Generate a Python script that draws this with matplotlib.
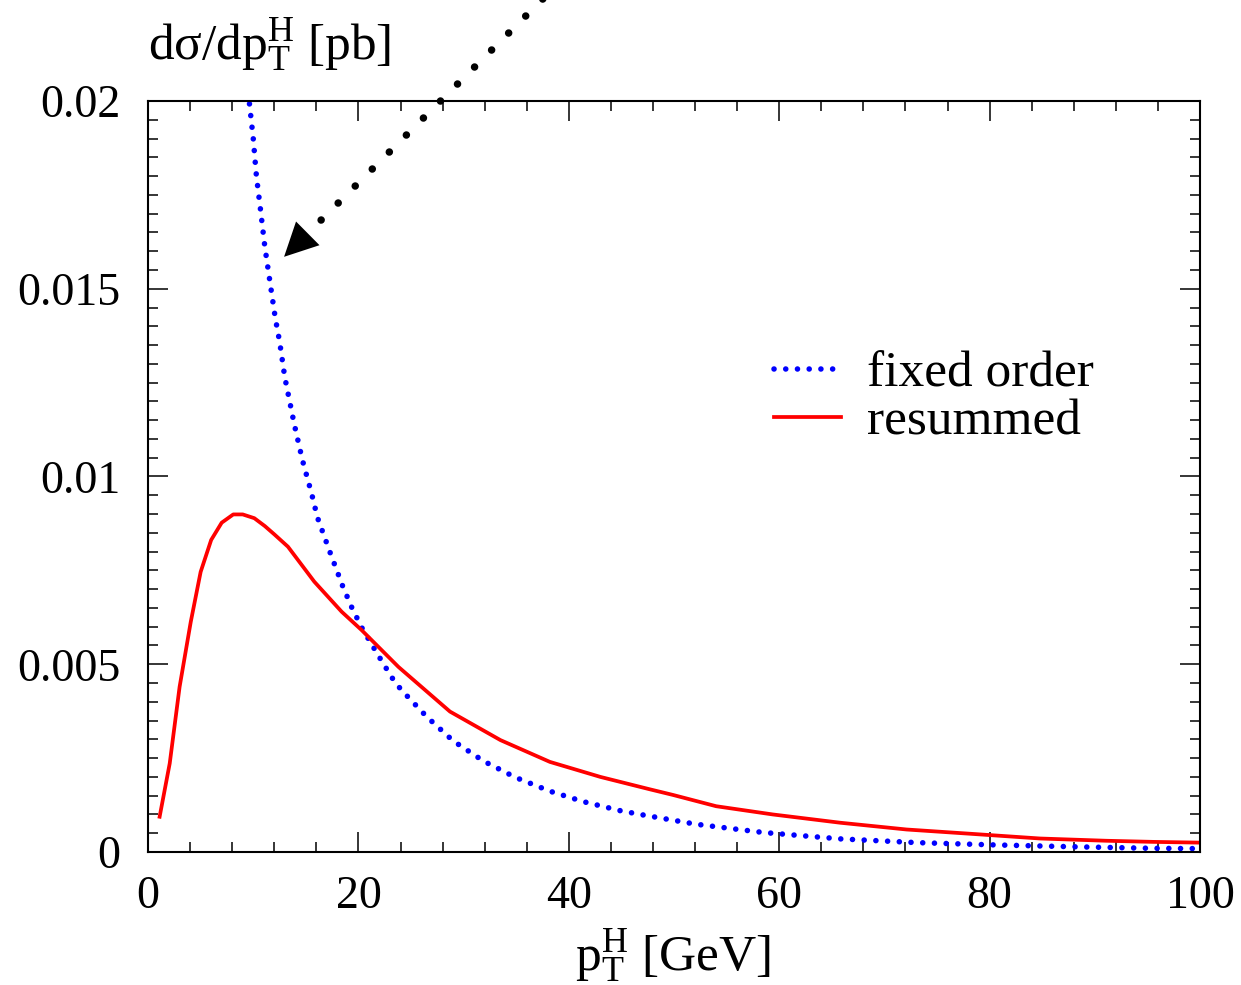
import numpy as np
import matplotlib
matplotlib.use("Agg")
import matplotlib.pyplot as plt
from matplotlib.ticker import MultipleLocator

plt.rcParams['font.family'] = ['Liberation Serif', 'DejaVu Serif']
plt.rcParams['mathtext.fontset'] = 'custom'
plt.rcParams['mathtext.rm'] = 'Liberation Serif'
plt.rcParams['mathtext.it'] = 'Liberation Serif'

# fixed order curve
fo_x = [9.0, 9.63, 10.0, 10.3, 10.7, 11.1, 11.6, 12.1, 12.5, 13.0, 13.9, 14.67,
        15.56, 16.1, 17.3, 18.5, 19.4, 20.4, 22.2, 23.4, 24.1, 26.5, 29.0, 31.9,
        34.9, 38.2, 41.4, 44.9, 47.0, 52.1, 58.5, 65.8, 73.1, 80.4, 88.0, 95.2, 100.0]
fo_y = [0.0221, 0.01995, 0.0190, 0.0180, 0.01708, 0.01612, 0.01516, 0.01421, 0.01360,
        0.01264, 0.01139, 0.01044, 0.00953, 0.00891, 0.00798, 0.00708, 0.00649,
        0.00593, 0.00509, 0.00455, 0.00431, 0.00360, 0.00296, 0.00242, 0.00199,
        0.00162, 0.00134, 0.00110, 0.00099, 0.00074, 0.00052, 0.00035, 0.00025,
        0.00019, 0.00014, 0.00010, 0.00009]

# resummed curve
rs_x = [1.1, 2.06, 3.0, 4.06, 5.0, 6.0, 7.0, 8.1, 9.0, 10.1, 11.1, 12.0, 13.3, 15.8,
        18.4, 20.3, 23.8, 28.7, 33.5, 38.2, 43.0, 47.7, 49.9, 54.0, 59.4, 65.8,
        72.1, 78.5, 84.8, 91.1, 95.6, 100.0]
rs_y = [0.00094, 0.00236, 0.0044, 0.00613, 0.00746, 0.00831, 0.00877, 0.00899,
        0.00899, 0.00889, 0.00868, 0.00846, 0.00813, 0.0072, 0.0064, 0.00591,
        0.00493, 0.00374, 0.00298, 0.0024, 0.0020, 0.00167, 0.00152, 0.00122,
        0.0010, 0.00078, 0.0006, 0.00048, 0.00036, 0.0003, 0.00027, 0.00025]

x_ticks = [0, 20, 40, 60, 80, 100]
y_ticks = [0, 0.005, 0.01, 0.015, 0.02]
y_ticklabels = ['0', '0.005', '0.01', '0.015', '0.02']

fig = plt.figure(figsize=(12.41, 9.85), dpi=100)
ax = fig.add_axes([0.1193, 0.135, 0.8477, 0.7625])

ax.plot(fo_x, fo_y, color='#0000ff', lw=4.0, linestyle=(0, (0.01, 2.1)),
        dash_capstyle='round', label='fixed order')
ax.plot(rs_x, rs_y, color='#ff0000', lw=2.7, label='resummed')

ax.set_xlim(0, 100)
ax.set_ylim(0, 0.02)
ax.set_xticks(x_ticks)
ax.set_xticklabels([str(t) for t in x_ticks])
ax.xaxis.set_minor_locator(MultipleLocator(4))
ax.set_yticks(y_ticks)
ax.set_yticklabels(y_ticklabels)
ax.yaxis.set_minor_locator(MultipleLocator(0.0005))

ax.tick_params(which='both', direction='in', top=True, right=True, labelsize=33)
ax.tick_params(which='major', length=14.5, width=1.1)
ax.tick_params(which='minor', length=7.2, width=1.1)
ax.tick_params(axis='x', pad=17)
ax.tick_params(axis='y', pad=20)
for s in ax.spines.values():
    s.set_linewidth(1.5)

# dotted arrow coming from above the frame
tip = (12.93, 0.01585)
base = (15.13, 0.01646)
start = (38.9, 0.0231)
ax.plot([start[0], base[0]], [start[1], base[1]], color='black', lw=5.4,
        linestyle=(0, (0.01, 3.2)), dash_capstyle='round', clip_on=False)
ax.annotate('', xy=tip, xytext=base, annotation_clip=False,
            arrowprops=dict(arrowstyle='-|>,head_length=0.4,head_width=0.2',
                            mutation_scale=60, lw=0, color='black',
                            shrinkA=0, shrinkB=0))

fig.text(0.119, 0.955, r'd$\mathrm{\sigma}$/dp$_\mathrm{T}^\mathrm{H}$ [pb]',
         fontsize=37, ha='left', va='center')
fig.text(0.542, 0.03, r'p$_\mathrm{T}^\mathrm{H}$ [GeV]', fontsize=37,
         ha='center', va='center')

ax.legend(loc='upper left', bbox_to_anchor=(0.575, 0.695), frameon=False,
          fontsize=37, handlelength=1.32, handletextpad=0.5, labelspacing=0.02,
          borderaxespad=0)

fig.savefig('out.png', dpi=100)
